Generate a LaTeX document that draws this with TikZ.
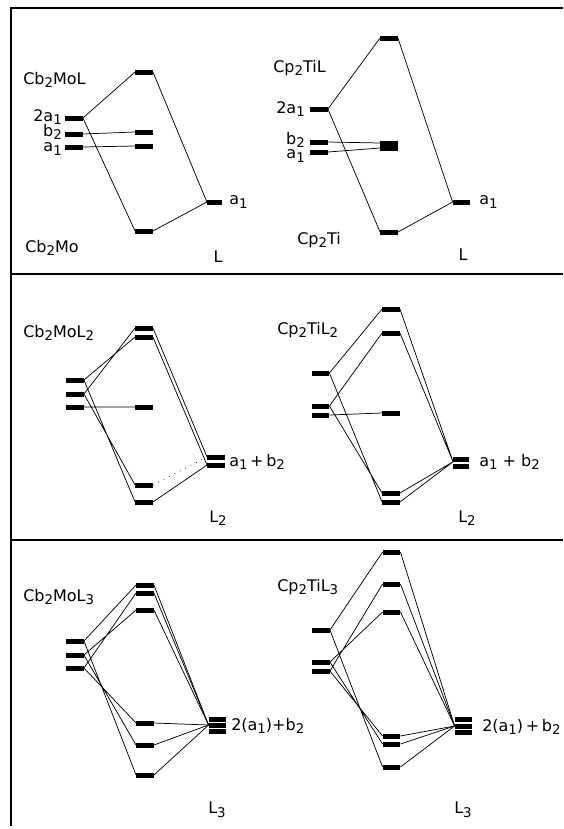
\documentclass[tikz,border=0pt]{standalone}
\usepackage{fontspec}
\setmainfont{DejaVu Sans}
\newcommand{\lo}[1]{\raisebox{-0.4ex}{\fontsize{10}{10}\selectfont#1}}

\begin{document}
\begin{tikzpicture}[x=0.75pt, y=-0.75pt, font=\fontsize{12}{14}\selectfont,
    lvl/.style={fill=black, inner sep=0pt, minimum width=13pt, minimum height=3.75pt},
    txt/.style={inner sep=0pt, anchor=west},
    tie/.style={line width=0.55pt}]
  \useasboundingbox (0,0) rectangle (564,829);
  \draw[line width=1.2pt] (11,826) -- (11,8) -- (563,8);
  \draw[line width=1pt] (11,274) -- (563,274);
  \draw[line width=1pt] (11,540) -- (563,540);

  % Cb2MoL
  \node[txt] (p1top) at (23,80) {Cb\lo{2}MoL};
  \node[txt] (p1bot) at (25,248) {Cb\lo{2}Mo};
  \node[lvl] (p1a) at (74,118) {};
  \node[lvl] (p1b) at (74,134) {};
  \node[lvl] (p1c) at (74,147) {};
  \node[txt, anchor=east] (p1al) at (62,117) {2a\lo{1}};
  \node[txt, anchor=east] (p1bl) at (62,132) {b\lo{2}};
  \node[txt, anchor=east] (p1cl) at (62,149) {a\lo{1}};
  \node[lvl] (p1m1) at (144,72) {};
  \node[lvl] (p1m2) at (144,132) {};
  \node[lvl] (p1m3) at (144,146) {};
  \node[lvl] (p1m4) at (144,231) {};
  \node[lvl, minimum width=11pt] (p1r) at (214.5,202) {};
  \node[txt] (p1rl) at (229,202) {a\lo{1}};
  \node (p1L) at (218,257) {L};
  \draw[tie] (p1a.east) -- (p1m1.west) (p1a.east) -- (p1m4.west)
    (p1b.east) -- (p1m2.west) (p1c.east) -- (p1m3.west)
    (p1r.west) -- (p1m1.east) (p1r.west) -- (p1m4.east);

  % Cp2TiL
  \node[txt] (p2top) at (273,68) {Cp\lo{2}TiL};
  \node[txt] (p2bot) at (297,240) {Cp\lo{2}Ti};
  \node[lvl] (p2a) at (319,109) {};
  \node[lvl] (p2b) at (319,142) {};
  \node[lvl] (p2c) at (319,152) {};
  \node[txt, anchor=east] (p2al) at (305,109) {2a\lo{1}};
  \node[txt, anchor=east] (p2bl) at (305,140) {b\lo{2}};
  \node[txt, anchor=east] (p2cl) at (305,156) {a\lo{1}};
  \node[lvl] (p2m1) at (389,38) {};
  \node[lvl] (p2m2) at (389,143) {};
  \node[lvl] (p2m3) at (389,148) {};
  \node[lvl] (p2m4) at (389,232) {};
  \node[lvl] (p2r) at (461.5,202) {};
  \node[txt] (p2rl) at (479,202) {a\lo{1}};
  \node (p2L) at (463,255) {L};
  \draw[tie] (p2a.east) -- (p2m1.west) (p2a.east) -- (p2m4.west)
    (p2b.east) -- (p2m2.west) (p2c.east) -- (p2m3.west)
    (p2r.west) -- (p2m1.east) (p2r.west) -- (p2m4.east);

  % Cb2MoL2
  \node[txt] (p3top) at (23,333) {Cb\lo{2}MoL\lo{2}};
  \node[lvl] (p3a) at (75,380) {};
  \node[lvl] (p3b) at (75,394) {};
  \node[lvl] (p3c) at (75,407) {};
  \node[lvl] (p3m1) at (144,328) {};
  \node[lvl] (p3m2) at (144,337) {};
  \node[lvl] (p3m3) at (144,407) {};
  \node[lvl] (p3m4) at (144,485) {};
  \node[lvl] (p3m5) at (144,502) {};
  \node[lvl] (p3r1) at (216,457) {};
  \node[lvl] (p3r2) at (216,465) {};
  \node[txt] (p3rl) at (229,462) {a\lo{1}\,+\,b\lo{2}};
  \node (p3L) at (218,518) {L\lo{2}};
  \draw[tie] (p3a.east) -- (p3m2.west) (p3b.east) -- (p3m1.west)
    (p3a.east) -- (p3m5.west) (p3b.east) -- (p3m4.west)
    (p3c.east) -- (p3m3.west)
    (p3m1.east) -- (p3r1.west) (p3m2.east) -- (p3r2.west)
    (p3m5.east) -- (p3r2.west);
  \draw[tie, loosely dotted] (p3m4.east) -- (p3r1.west);

  % Cp2TiL2
  \node[txt] (p4top) at (277,330) {Cp\lo{2}TiL\lo{2}};
  \node[lvl] (p4a) at (320.5,373) {};
  \node[lvl] (p4b) at (320.5,406) {};
  \node[lvl] (p4c) at (320.5,415) {};
  \node[lvl] (p4m1) at (391,309) {};
  \node[lvl] (p4m2) at (391,333) {};
  \node[lvl] (p4m3) at (391,413) {};
  \node[lvl] (p4m4) at (391,493) {};
  \node[lvl] (p4m5) at (391,502) {};
  \node[lvl, minimum width=11.5pt] (p4r1) at (461,459) {};
  \node[lvl, minimum width=11.5pt] (p4r2) at (461,466) {};
  \node[txt] (p4rl) at (479,462) {a\lo{1} + b\lo{2}};
  \node (p4L) at (467,518) {L\lo{2}};
  \draw[tie] (p4a.east) -- (p4m1.west) (p4b.east) -- (p4m2.west)
    (p4c.east) -- (p4m3.west)
    (p4a.east) -- (p4m5.west) (p4b.east) -- (p4m4.west)
    (p4m1.east) -- (p4r1.south west) (p4m2.east) -- (p4r1.south west)
    (p4m4.east) -- (p4r1.south west) (p4m5.east) -- (p4r1.south west);

  % Cb2MoL3
  \node[txt] (p5top) at (23,597) {Cb\lo{2}MoL\lo{3}};
  \node[lvl] (p5a) at (75,641) {};
  \node[lvl] (p5b) at (75,655) {};
  \node[lvl] (p5c) at (75,668) {};
  \node[lvl] (p5m1) at (145,585) {};
  \node[lvl] (p5m2) at (145,593) {};
  \node[lvl] (p5m3) at (145,610) {};
  \node[lvl] (p5m4) at (145,723) {};
  \node[lvl] (p5m5) at (145,745) {};
  \node[lvl] (p5m6) at (145,775) {};
  \node[lvl] (p5r1) at (217.5,719) {};
  \node[lvl] (p5r2) at (217.5,725) {};
  \node[lvl] (p5r3) at (217.5,731) {};
  \node[txt] (p5rl) at (231,726) {2(a\lo{1})+b\lo{2}};
  \node (p5L) at (217,810) {L\lo{3}};
  \draw[tie] (p5a.east) -- (p5m1.west) (p5b.east) -- (p5m3.west)
    (p5c.east) -- (p5m2.west)
    (p5a.east) -- (p5m6.west) (p5b.east) -- (p5m5.west)
    (p5c.east) -- (p5m4.west);
  \foreach \m in {1,...,6}
    \draw[tie] (p5m\m.east) -- (p5r2.west);

  % Cp2TiL3
  \node[txt] (p6top) at (277,587) {Cp\lo{2}TiL\lo{3}};
  \node[lvl] (p6a) at (321,630) {};
  \node[lvl] (p6b) at (321,662) {};
  \node[lvl] (p6c) at (321,671) {};
  \node[lvl] (p6m1) at (391.5,552) {};
  \node[lvl] (p6m2) at (391.5,584) {};
  \node[lvl] (p6m3) at (391.5,612) {};
  \node[lvl] (p6m4) at (391.5,736) {};
  \node[lvl] (p6m5) at (391.5,744) {};
  \node[lvl] (p6m6) at (391.5,767) {};
  \node[lvl] (p6r1) at (463.5,719) {};
  \node[lvl] (p6r2) at (463.5,726) {};
  \node[lvl] (p6r3) at (463.5,732) {};
  \node[txt] (p6rl) at (482,727) {2(a\lo{1})\,+\,b\lo{2}};
  \node (p6L) at (463,810) {L\lo{3}};
  \draw[tie] (p6a.east) -- (p6m1.west) (p6b.east) -- (p6m3.west)
    (p6c.east) -- (p6m2.west)
    (p6a.east) -- (p6m6.west) (p6b.east) -- (p6m5.west)
    (p6c.east) -- (p6m4.west);
  \foreach \m in {1,...,6}
    \draw[tie] (p6m\m.east) -- (p6r2.west);
\end{tikzpicture}
\end{document}
